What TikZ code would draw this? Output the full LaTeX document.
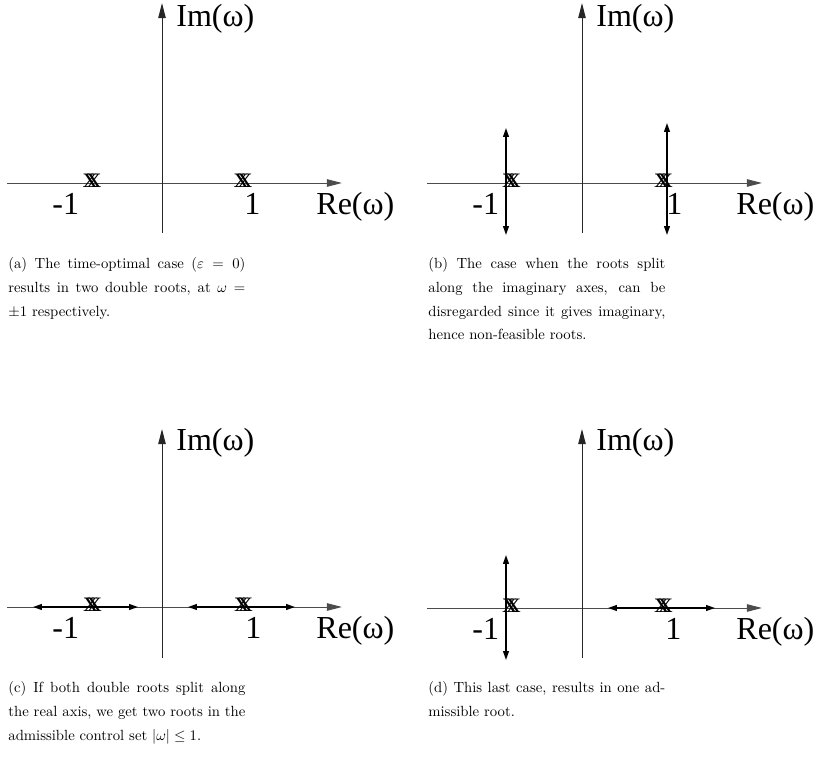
\documentclass[tikz,border=0pt]{standalone}
\usepackage{fontspec}
\usepackage{graphicx}
\newfontfamily\tnr{Liberation Serif}
\usetikzlibrary{arrows.meta}
\newcommand{\mycapbox}[1]{\scalebox{0.7537}{\begin{minipage}[t]{161pt}\fontsize{10}{16}\selectfont\hyphenpenalty=10000 \emergencystretch=1em #1\par\end{minipage}}}
\tikzset{
  axisline/.style={line width=0.5pt, draw=black!70, -{Triangle[length=7.7pt,width=3.8pt]}},
  rootarrow/.style={line width=0.75pt, draw=black, -{Triangle[length=4.6pt,width=3pt]}},
  axlabel/.style={anchor=base west, inner sep=0pt, font=\tnr\fontsize{16.4}{18}\selectfont},
  rootmark/.style={anchor=base, inner sep=0pt, font=\tnr\fontsize{15}{16}\selectfont},
  captext/.style={anchor=base west, inner sep=0pt},
}
\begin{document}
\begin{tikzpicture}[x=0.512pt,y=-0.512pt]
\useasboundingbox (0,0) rectangle (819,779);
% ---------- panel (a)
\begin{scope}[shift={(0,0)}]
  \coordinate (aHl) at (7,183); \coordinate (aHr) at (342,183);
  \coordinate (aVb) at (162,233); \coordinate (aVt) at (162,3);
  \draw[axisline] (aHl) -- (aHr);
  \draw[axisline,draw=black!85] (aVb) -- (aVt);
  \node[axlabel] (aIm) at (176,27) {Im(ω)};
  \node[axlabel] (aRe) at (316,215) {Re(ω)};
  \node[axlabel] (aM1) at (52,215) {-1};
  \node[axlabel] (aP1) at (244,215) {1};
  \node[rootmark] (aRL) at (92,188) {x\kern-5.6pt x};
  \node[rootmark] (aRR) at (243,188) {x\kern-5.6pt x};
  \node[captext] (aCap) at (8,269) {\mycapbox{(a) The time-optimal case ($\varepsilon = 0$)\linebreak results in two double roots, at $\omega =$\linebreak $\pm1$ respectively.}};
\end{scope}
% ---------- panel (b)
\begin{scope}[shift={(420,0)}]
  \coordinate (bHl) at (7,183); \coordinate (bHr) at (342,183);
  \coordinate (bVb) at (162,233); \coordinate (bVt) at (162,3);
  \draw[axisline] (bHl) -- (bHr);
  \draw[axisline,draw=black!85] (bVb) -- (bVt);
  \coordinate (bL) at (86,183); \coordinate (bLu) at (86,128); \coordinate (bLd) at (86,235);
  \coordinate (bR) at (247,183); \coordinate (bRu) at (247,123); \coordinate (bRd) at (247,235);
  \draw[rootarrow] (bL) -- (bLu);
  \draw[rootarrow] (bL) -- (bLd);
  \draw[rootarrow] (bR) -- (bRu);
  \draw[rootarrow] (bR) -- (bRd);
  \node[axlabel] (bIm) at (176,27) {Im(ω)};
  \node[axlabel] (bRe) at (316,215) {Re(ω)};
  \node[axlabel] (bM1) at (52,215) {-1};
  \node[axlabel] (bP1) at (246,215) {1};
  \node[rootmark] (bRL) at (91.5,188) {x\kern-5.6pt x};
  \node[rootmark] (bRR) at (243.5,188) {x\kern-5.6pt x};
  \node[captext] (bCap) at (8,269) {\mycapbox{(b) The case when the roots split\linebreak along the imaginary axes, can be\linebreak disregarded since it gives imaginary,\linebreak hence non-feasible roots.}};
\end{scope}
% ---------- panel (c)
\begin{scope}[shift={(0,424)}]
  \coordinate (cHl) at (7,183); \coordinate (cHr) at (342,183);
  \coordinate (cVb) at (162,234); \coordinate (cVt) at (162,5);
  \draw[axisline] (cHl) -- (cHr);
  \draw[axisline,draw=black!85] (cVb) -- (cVt);
  \coordinate (cL) at (90,183); \coordinate (cLl) at (33,183); \coordinate (cLr) at (138,183);
  \coordinate (cR) at (243,183); \coordinate (cRl) at (188,183); \coordinate (cRr) at (295,183);
  \draw[rootarrow] (cL) -- (cLl);
  \draw[rootarrow] (cL) -- (cLr);
  \draw[rootarrow] (cR) -- (cRl);
  \draw[rootarrow] (cR) -- (cRr);
  \node[axlabel] (cIm) at (176,27) {Im(ω)};
  \node[axlabel] (cRe) at (316,215) {Re(ω)};
  \node[axlabel] (cM1) at (52,215) {-1};
  \node[axlabel] (cP1) at (245,215) {1};
  \node[rootmark] (cRL) at (92.5,188) {x\kern-5.6pt x};
  \node[rootmark] (cRR) at (243.5,188) {x\kern-5.6pt x};
  \node[captext] (cCap) at (8,269) {\mycapbox{(c) If both double roots split along\linebreak the real axis, we get two roots in the\linebreak admissible control set $|\omega| \leq 1$.}};
\end{scope}
% ---------- panel (d)
\begin{scope}[shift={(420,424)}]
  \coordinate (dHl) at (7,184); \coordinate (dHr) at (342,184);
  \coordinate (dVb) at (162,234); \coordinate (dVt) at (162,5);
  \draw[axisline] (dHl) -- (dHr);
  \draw[axisline,draw=black!85] (dVb) -- (dVt);
  \coordinate (dL) at (86,184); \coordinate (dLu) at (86,131); \coordinate (dLd) at (86,236);
  \coordinate (dR) at (243,184); \coordinate (dRl) at (188,184); \coordinate (dRr) at (295,184);
  \draw[rootarrow] (dL) -- (dLu);
  \draw[rootarrow] (dL) -- (dLd);
  \draw[rootarrow] (dR) -- (dRl);
  \draw[rootarrow] (dR) -- (dRr);
  \node[axlabel] (dIm) at (176,27) {Im(ω)};
  \node[axlabel] (dRe) at (316,216) {Re(ω)};
  \node[axlabel] (dM1) at (52,216) {-1};
  \node[axlabel] (dP1) at (245,216) {1};
  \node[rootmark] (dRL) at (91.5,189) {x\kern-5.6pt x};
  \node[rootmark] (dRR) at (243.5,189) {x\kern-5.6pt x};
  \node[captext] (dCap) at (8,269) {\mycapbox{(d) This last case, results in one ad-\linebreak missible root.}};
\end{scope}
\end{tikzpicture}
\end{document}
